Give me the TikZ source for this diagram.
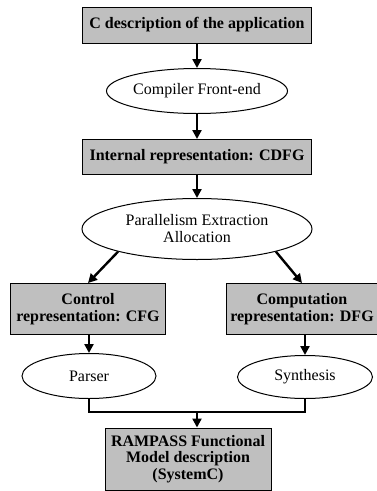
\documentclass[tikz,border=0pt]{standalone}
\usepackage{fontspec}
\setmainfont{Liberation Serif}
\usetikzlibrary{shapes.geometric,arrows.meta}

\begin{document}
\begin{tikzpicture}[
    x=1pt, y=-1pt,
    procbox/.style={draw=black, line width=1pt, fill=black!25, font=\fontsize{16}{16.5}\selectfont\bfseries, align=center, inner sep=0pt},
    stepell/.style={draw=black, line width=1pt, ellipse, font=\fontsize{16}{17}\selectfont, align=center, inner sep=0pt},
    flow/.style={line width=2.4pt, -{Triangle[length=9pt,width=9pt]}},
    ]
    \useasboundingbox (0,0) rectangle (376,491);
    \node[procbox, minimum width=229pt, minimum height=36pt] (cdesc) at (197,25) {C description of the application};
    \node[stepell, minimum width=181pt, minimum height=45pt] (front) at (197,91) {Compiler Front-end};
    \node[procbox, minimum width=229pt, minimum height=35pt] (cdfg) at (197,157) {Internal representation: CDFG};
    \node[stepell, minimum width=230pt, minimum height=61pt] (para) at (197,229) {Parallelism Extraction\\Allocation};
    \node[procbox, minimum width=155pt, minimum height=51pt] (cfg) at (88,309) {Control\\representation: CFG};
    \node[procbox, minimum width=152pt, minimum height=51pt] (dfg) at (302,309) {Computation\\representation: DFG};
    \node[stepell, minimum width=134pt, minimum height=45pt] (parser) at (89,376) {Parser};
    \node[stepell, minimum width=135pt, minimum height=43pt] (synth) at (305,377) {Synthesis};
    \node[procbox, minimum width=166pt, minimum height=62pt] (rampass) at (188,459) {RAMPASS Functional\\Model description\\(SystemC)};
    \coordinate (join) at (197,412);
    % arrows
    \draw[flow] (cdesc) -- (front);
    \draw[flow] (front) -- (cdfg);
    \draw[flow] (cdfg) -- (para);
    \draw[flow] (para.196) -- (cfg.north);
    \draw[flow] (para.-16) -- (dfg.north);
    \draw[flow] (cfg.south -| parser.north) -- (parser.north);
    \draw[flow] (dfg.south -| synth.north) -- (synth.north);
    \draw[line width=2.4pt] (parser.south) |- (join) -| (synth.south);
    \draw[flow] (join) -- (join |- rampass.north);
\end{tikzpicture}
\end{document}
